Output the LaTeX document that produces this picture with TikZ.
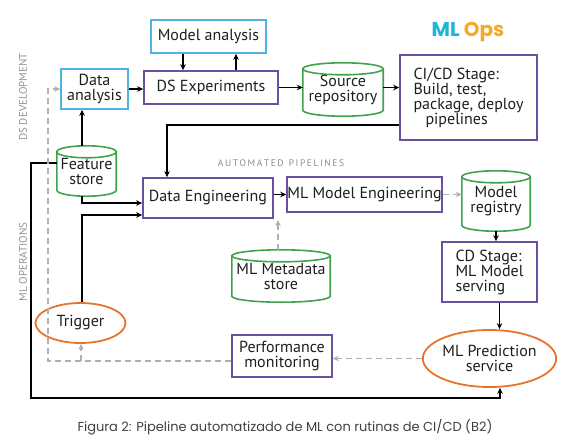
\documentclass[tikz,border=0pt]{standalone}
\usepackage{fontspec}
\setmainfont{PT Sans}
\newfontfamily\capfont{Poppins}
\usetikzlibrary{arrows.meta,calc,shapes.geometric}
\definecolor{bluebox}{HTML}{4FB4E0}
\definecolor{purplebox}{HTML}{6B4FA3}
\definecolor{greenbox}{HTML}{3FA34D}
\definecolor{orangebox}{HTML}{E8742C}
\definecolor{dashgray}{HTML}{B0B0B0}
\definecolor{inkc}{HTML}{1E1E1E}
\definecolor{mlcyan}{HTML}{1FB5D6}
\definecolor{opsorange}{HTML}{F5A829}
\newcommand{\drawcyl}[1]{%
  \draw[greenbox, line width=1.6pt] let \p1=(#1.north west), \p2=(#1.south east), \n1={(\x2-\x1)/2} in
    ($(#1.north)+(0,-6pt)$) ellipse [x radius=\n1, y radius=6pt]
    ($(#1.north west)+(0,-6pt)$) -- ($(#1.south west)+(0,6pt)$)
    arc [start angle=180, end angle=360, x radius=\n1, y radius=6pt]
    -- ($(#1.north east)+(0,-6pt)$);
}
\tikzset{
  hand/.style={text=inkc, font=\fontsize{16}{15}\selectfont, align=center, inner sep=0pt},
  bbox/.style={hand, draw=bluebox, line width=1.6pt},
  pbox/.style={hand, draw=purplebox, line width=1.6pt},
  cyl/.style={hand, yshift=-3pt},
  oval/.style={hand, ellipse, draw=orangebox, line width=1.8pt},
  arr/.style={draw=black, line width=1.7pt, -{Stealth[length=6pt,width=5.5pt]}},
  darr/.style={draw=dashgray, line width=1.4pt, dash pattern=on 6pt off 4pt, -{Stealth[length=6pt,width=5.5pt]}},
  sidelab/.style={text=gray!85, font=\fontsize{11}{11}\selectfont, rotate=90, inner sep=0pt},
}
\begin{document}
\begin{tikzpicture}[x=1pt,y=-1pt]
\useasboundingbox (0,0) rectangle (564,447);

% nodes
\node[bbox, minimum width=115pt, minimum height=33pt] (ma) at (208.5,36.5) {Model analysis};
\node[bbox, minimum width=67pt, minimum height=40pt] (da) at (94.5,89) {Data\\analysis};
\node[pbox, minimum width=134pt, minimum height=33pt] (dse) at (211,87.5) {DS Experiments};
\node[cyl, minimum width=80pt, minimum height=53pt] (src) at (343,86.5) {Source\\repository};
\node[pbox, minimum width=137pt, minimum height=85pt, align=left] (cicd) at (468.5,97.5) {CI/CD Stage:\\Build, test,\\package, deploy\\\hspace*{12pt}pipelines};
\node[cyl, minimum width=59pt, minimum height=50pt] (fs) at (86.5,168) {Feature\\store};
\node[pbox, minimum width=130pt, minimum height=40pt] (de) at (208,198) {Data Engineering};
\node[pbox, minimum width=155pt, minimum height=35pt] (mme) at (364.5,194.5) {ML Model Engineering};
\node[cyl, minimum width=68pt, minimum height=60pt] (mr) at (496,198) {Model\\registry};
\node[pbox, minimum width=95pt, minimum height=60pt, align=left] (cd) at (489.5,272) {CD Stage:\\ML Model\\serving};
\node[cyl, minimum width=98pt, minimum height=52pt] (meta) at (281,273) {ML Metadata\\store};
\node[oval, minimum width=90pt, minimum height=40pt] (trig) at (80.5,323) {Trigger};
\node[pbox, minimum width=100pt, minimum height=42pt] (pm) at (282,356) {Performance\\monitoring};
\node[oval, minimum width=133pt, minimum height=57pt] (mlp) at (489.5,358.5) {ML Prediction\\service};

\drawcyl{src}
\drawcyl{fs}
\drawcyl{mr}
\drawcyl{meta}

% labels
\node[font=\capfont\bfseries\fontsize{20}{20}\selectfont, inner sep=0pt] (title) at (468,32) {\textcolor{mlcyan}{ML} \textcolor{opsorange}{Ops}};
\node[text=gray!90, font=\fontsize{9.5}{9.5}\selectfont, inner sep=0pt] (auto) at (281,163) {A\,U\,T\,O\,M\,A\,T\,E\,D\ \ P\,I\,P\,E\,L\,I\,N\,E\,S};
\node[sidelab] (dsdev) at (23,97) {DS DEVELOPMENT};
\node[sidelab] (mlops) at (23,262) {ML OPERATIONS};
\node[text=black!75, font=\capfont\fontsize{13}{13}\selectfont, inner sep=0pt] (cap) at (285,427) {Figura 2: Pipeline automatizado de ML con rutinas de CI/CD (B2)};

% coordinates
\coordinate (k1) at (167,125);
\coordinate (k2) at (82,203);
\coordinate (k3) at (82,215);
\coordinate (k4) at (31,163);
\coordinate (k5) at (31,398);
\coordinate (k6) at (500,398);
\coordinate (k7) at (278,220);
\coordinate (d1) at (48,361);
\coordinate (d2) at (48,89);
\coordinate (d3) at (81,361);

% connectors
\draw[arr] ([xshift=-25.5pt]ma.south) -- ([xshift=-25.5pt]ma.south |- dse.north);
\draw[arr] ([xshift=27.5pt]ma.south |- dse.north) -- ([xshift=27.5pt]ma.south);
\draw[arr] (da.east) -- (dse.west |- da.east);
\draw[arr] (dse.east) -- (src.west |- dse.east);
\draw[arr] (src.east |- dse.east) -- (cicd.west |- dse.east);
\draw[arr] ([xshift=-4.5pt]fs.north) -- ([xshift=-4.5pt]fs.north |- da.south);
\draw[arr] (cicd.west |- k1) -- (k1) -- (k1 |- de.north);
\draw[arr] (k2 |- fs.south) -- (k2) -- (k2 -| de.west);
\draw[arr] (k3 |- trig.north) -- (k3) -- (k3 -| de.west);
\draw[arr] (fs.west |- k4) -- (k4) -- (k5) -- (k6) -- (k6 |- mlp.south);
\draw[arr] (de.east |- mme.west) -- (mme.west);
\draw[darr] (mme.east) -- (mr.west |- mme.east);
\draw[arr] (mr.south) -- (mr.south |- cd.north);
\draw[arr] ([xshift=10pt]cd.south) -- ([xshift=10pt]cd.south |- mlp.north);
\draw[darr] (mlp.west) -- (pm.east |- mlp.west);
\draw[darr] (k7 |- meta.north) -- (k7);
\draw[darr] (pm.west |- d1) -- (d1) -- (d2) -- (da.west |- d2);
\draw[darr] (d3) -- (d3 |- trig.south);
\end{tikzpicture}
\end{document}
